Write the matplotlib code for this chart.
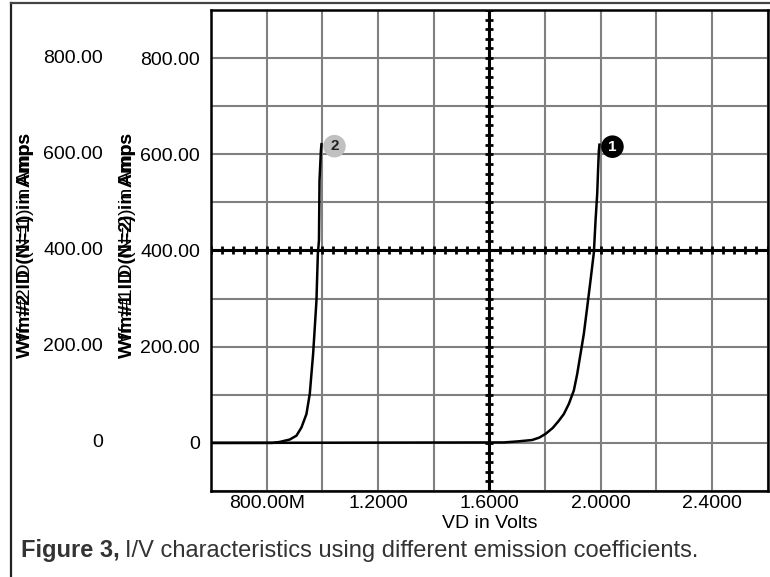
import numpy as np
import matplotlib
matplotlib.use("Agg")
import matplotlib.pyplot as plt
from matplotlib.lines import Line2D

plt.rcParams['font.family'] = ['Liberation Sans', 'DejaVu Sans']

# ---- data ----
vd_n1 = [0.60, 0.820, 0.847, 0.883, 0.907, 0.925, 0.943, 0.955, 0.967, 0.973,
         0.979, 0.984, 0.988, 0.990, 0.995, 0.997]
id_n1 = [0, 0, 2, 7, 15, 32, 60, 102, 185, 240, 296, 393, 421, 546, 608, 621]

vd_n2 = [0.60, 1.653, 1.700, 1.754, 1.780, 1.803, 1.828, 1.850, 1.868, 1.886,
         1.904, 1.916, 1.928, 1.940, 1.952, 1.964, 1.976, 1.982, 1.988, 1.991,
         1.994, 1.996]
id_n2 = [0, 1, 3, 6, 11, 19, 31, 46, 60, 81, 109, 143, 185, 227, 282, 338,
         396, 462, 518, 566, 608, 620]

x_major = [0.8, 1.2, 1.6, 2.0, 2.4]
x_labels = ["800.00M", "1.2000", "1.6000", "2.0000", "2.4000"]
y_major = [0, 200, 400, 600, 800]
y_labels = ["0", "200.00", "400.00", "600.00", "800.00"]

W, H = 770, 577
fig = plt.figure(figsize=(W / 100, H / 100), dpi=100)
L, R, T, B = 211, 767.5, 10, 491
ax = fig.add_axes([L / W, 1 - B / H, (R - L) / W, (B - T) / H])
ax.set_xlim(0.6, 2.6)
ax.set_ylim(-100, 900)

grid_c = '#808080'
ax.set_xticks(x_major)
ax.set_xticklabels(x_labels, fontsize=14)
ax.set_xticks(np.arange(0.6, 2.61, 0.2), minor=True)
ax.set_yticks(y_major)
ax.set_yticklabels(y_labels, fontsize=14)
ax.set_yticks(np.arange(-100, 901, 100), minor=True)
ax.tick_params(which='both', length=0)
ax.tick_params(axis='x', pad=3)
ax.tick_params(axis='y', pad=8)
ax.grid(True, which='both', color=grid_c, lw=1.5)
ax.set_axisbelow(True)
for s in ax.spines.values():
    s.set_linewidth(1.8)
    s.set_color('black')
    s.set_zorder(5)

# second column of y tick labels
for v, lab in zip(y_major, y_labels):
    ax.text(-0.194, v, lab, transform=ax.get_yaxis_transform(),
            ha='right', va='center', fontsize=14)

# crossing axes with minor ticks
ax.axhline(400, color='black', lw=2.2, zorder=3)
ax.axvline(1.6, color='black', lw=2.2, zorder=3)
tx = np.arange(0.6, 2.6001, 0.04)
ax.plot(tx, np.full_like(tx, 400), ls='none', marker='|', ms=6, mew=2,
        color='black', zorder=3)
ty = np.arange(-100, 900.1, 20)
ax.plot(np.full_like(ty, 1.6), ty, ls='none', marker='_', ms=6, mew=2,
        color='black', zorder=3)

# curves
ax.plot(vd_n1, id_n1, color='black', lw=1.8, zorder=4)
ax.plot(vd_n2, id_n2, color='black', lw=1.8, zorder=4)

ax.annotate('2', xy=(vd_n1[-1], id_n1[-1]), xytext=(13, -2),
            textcoords='offset pixels', ha='center', va='center',
            fontsize=11, fontweight='bold', color='#222222', zorder=6,
            bbox=dict(boxstyle='circle,pad=0.28', fc='#c0c0c0', ec='none'))
ax.annotate('1', xy=(vd_n2[-1], id_n2[-1]), xytext=(13, -2),
            textcoords='offset pixels', ha='center', va='center',
            fontsize=11, fontweight='bold', color='white', zorder=6,
            bbox=dict(boxstyle='circle,pad=0.28', fc='black', ec='none'))

# axis label
fig.text((L + R) / 2 / W, 1 - 523 / H, "VD in Volts", ha='center',
         va='center', fontsize=14)

# overlapped y labels
for xc, lab in [(26, "Wfm#2 ID (N=1) in Amps"), (128, "Wfm#1 ID (N=2) in Amps")]:
    fig.text(xc / W, 1 - 133 / H, lab, rotation=90, ha='center', va='top',
             fontsize=14)
    fig.text(xc / W, 1 - 133 / H, lab, rotation=90, ha='center', va='top',
             fontsize=14, fontweight='bold')

# caption
t1 = fig.text(21 / W, 1 - 557 / H, "Figure 3,", ha='left', va='baseline',
              fontsize=17, fontweight='bold', color='#333333')
fig.canvas.draw()
bb = t1.get_window_extent()
fig.text((bb.x1 + 5) / W, 1 - 557 / H,
         "I/V characteristics using different emission coefficients.",
         ha='left', va='baseline', fontsize=17, color='#333333')

# outer frame (top and left lines)
fig.add_artist(Line2D([11 / W, 11 / W], [0, 1 - 3 / H], color='#222222',
                      lw=1.6, transform=fig.transFigure))
fig.add_artist(Line2D([11 / W, 1], [1 - 3 / H, 1 - 3 / H], color='#444444',
                      lw=1.6, transform=fig.transFigure))

fig.savefig('out.png', dpi=100)
